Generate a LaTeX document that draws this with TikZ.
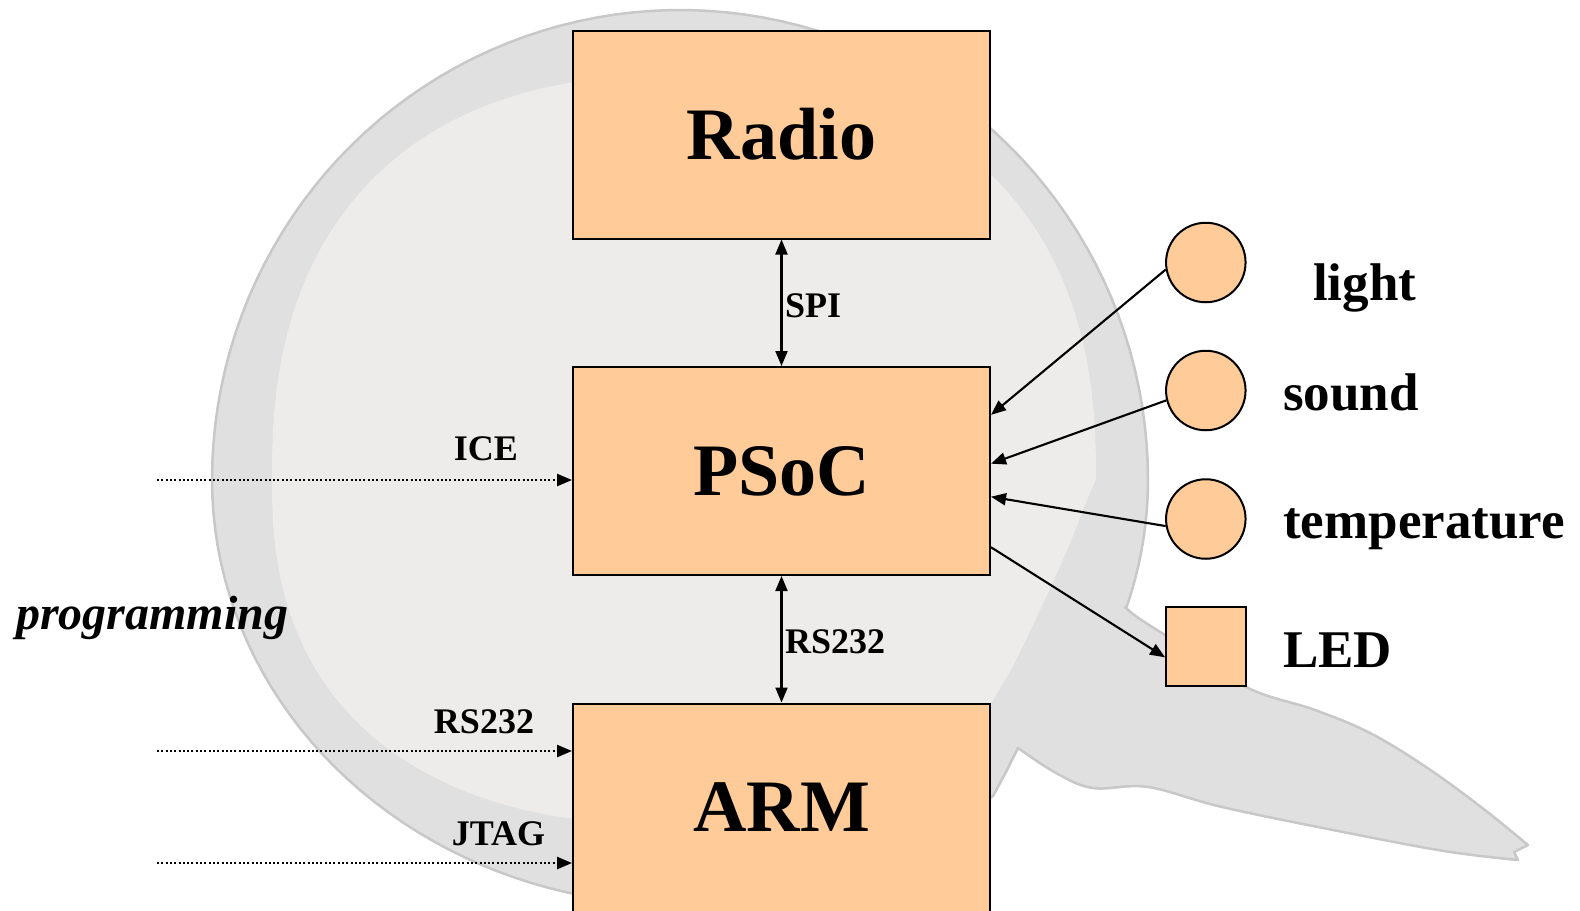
\documentclass[tikz,border=0pt]{standalone}
\usepackage{fontspec}
\setmainfont{Liberation Serif}
\usetikzlibrary{arrows.meta,calc}
\definecolor{peach}{HTML}{FFCC99}
\definecolor{ringfill}{RGB}{224,224,224}
\definecolor{ringedge}{RGB}{200,200,200}
\definecolor{innerfill}{RGB}{238,235,235}
\begin{document}
\begin{tikzpicture}[x=1bp,y=-1bp,
  box/.style={draw=black, line width=2bp, fill=peach, minimum width=417bp, minimum height=208bp, inner sep=0pt, font=\fontsize{74bp}{80bp}\selectfont\bfseries},
  sensor/.style={circle, draw=black, line width=2bp, fill=peach, minimum size=79.5bp, inner sep=0pt},
  ledbox/.style={rectangle, draw=black, line width=2bp, fill=peach, minimum size=79.5bp, inner sep=0pt},
  biglabel/.style={font=\fontsize{53bp}{60bp}\selectfont\bfseries, anchor=base west, inner sep=0pt},
  smalllabel/.style={font=\fontsize{36bp}{40bp}\selectfont\bfseries, anchor=base, inner sep=0pt},
  link/.style={line width=2.1bp, {Triangle[length=15bp,width=12bp]}-{Triangle[length=15bp,width=12bp]}},
  feed/.style={line width=2.1bp, -{Triangle[length=15bp,width=12bp]}},
  dotfeed/.style={line width=2.4bp, dash pattern=on 2bp off 2.3bp, -{Triangle[length=15bp,width=12bp]}},
]
\useasboundingbox (0,0) rectangle (1580,910);
\clip (0,0) rectangle (1580,910);
\fill[white] (0,0) rectangle (1580,910);

% background logo: body and tail
\path[fill=ringfill, draw=ringedge, line width=2.5bp, line join=round]
  plot[domain=-17.4:0, samples=10, variable=\t] ({680+468*cos(\t)},{480-425*sin(\t)})
  -- plot[domain=0:180, samples=80, variable=\t] ({680+468*cos(\t)},{480-470*sin(\t)})
  -- plot[domain=180:312, samples=60, variable=\t] ({680+468*cos(\t)},{480-425*sin(\t)})
  -- (1006,772) -- (1018,748)
  -- plot[smooth, tension=0.6] coordinates {(1018,748) (1056,773) (1093,788) (1148,787) (1222,807) (1333,830) (1444,851) (1518,860)}
  -- (1514,852) -- (1528,845)
  -- plot[smooth, tension=0.6] coordinates {(1528,845) (1481,807) (1426,767) (1370,733) (1315,710) (1246,687) (1168,637) (1137,617) (1125,607)}
  -- cycle;
% lighter inner disc
\fill[innerfill]
  plot[domain=0:90, samples=40, variable=\t] ({684+412*pow(abs(cos(\t))+0.0001,0.833)},{480-405*pow(abs(sin(\t))+0.0001,0.833)})
  -- plot[domain=90:180, samples=40, variable=\t] ({684-412*pow(abs(cos(\t))+0.0001,0.833)},{480-405*pow(abs(sin(\t))+0.0001,0.833)})
  -- plot[domain=180:270, samples=40, variable=\t] ({684-412*pow(abs(cos(\t))+0.0001,0.833)},{480+345*pow(abs(sin(\t))+0.0001,0.833)})
  -- plot[smooth, tension=0.5] coordinates {(684,825) (850,800) (960,740) (1005,680) (1040,610) (1068,548) (1087,500) (1094,484) (1096,480)}
  -- cycle;

% main boxes
\node[box] (radio) at (781.5,134.5) {Radio};
\node[box] (psoc) at (781.5,471) {PSoC};
\node[box] (arm) at (781.5,807.5) {ARM};

% sensors
\node[sensor] (light) at (1205.8,262.5) {};
\node[sensor] (sound) at (1205.8,390.5) {};
\node[sensor] (temp) at (1205.8,519) {};
\node[ledbox] (led) at (1205.8,646.4) {};

% labels
\node[biglabel] (lightl) at (1313,300) {light};
\node[biglabel] (soundl) at (1283,410) {sound};
\node[biglabel] (templ) at (1283,538) {temperature};
\node[biglabel] (ledl) at (1283,667) {LED};

% bus connectors
\draw[link] (radio) -- (psoc);
\draw[link] (psoc) -- (arm);
\node[smalllabel, anchor=base west] (spil) at (785,317) {SPI};
\node[smalllabel, anchor=base west] (rsl) at (785,653) {RS232};

% sensor connectors
\draw[feed] (light.190) -- (psoc.15.5);
\draw[feed] (sound.194) -- (psoc.2.2);
\draw[feed] (temp.190) -- (psoc.353.4);
\draw[feed] (psoc.340.7) -- (led.195);

% programming
\coordinate (ice0) at (157,480);
\coordinate (rs0) at (157,751);
\coordinate (jtag0) at (157,863);
\draw[dotfeed] (ice0) -- (ice0 -| psoc.west);
\draw[dotfeed] (rs0) -- (rs0 -| arm.west);
\draw[dotfeed] (jtag0) -- (jtag0 -| arm.west);
\node[smalllabel] (icel) at (486,460) {ICE};
\node[smalllabel] (rsleft) at (484,733) {RS232};
\node[smalllabel] (jtagl) at (498.5,845) {JTAG};
\node[font=\fontsize{48bp}{54bp}\selectfont\bfseries\itshape, anchor=base west, inner sep=0pt] (prog) at (16,629) {programming};
\end{tikzpicture}
\end{document}
